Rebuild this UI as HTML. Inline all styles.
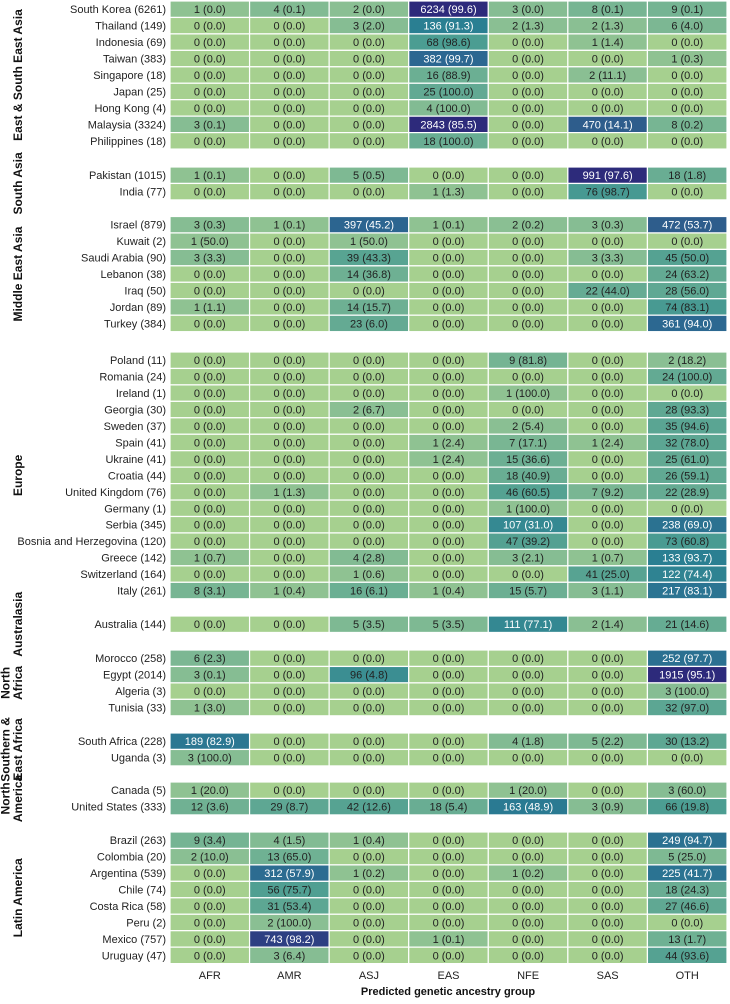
<!DOCTYPE html>
<html><head><meta charset="utf-8">
<style>
html,body{margin:0;padding:0;background:#fff;}
body{width:730px;height:999px;overflow:hidden;font-family:"Liberation Sans",Arial,sans-serif;}
svg text{font-family:"Liberation Sans",Arial,sans-serif;}
</style></head>
<body>
<svg id="chart" width="730" height="999" xmlns="http://www.w3.org/2000/svg"></svg>
<script>
const columns = ["AFR","AMR","ASJ","EAS","NFE","SAS","OTH"];
const groups = [
 {name:["East & South East Asia"], rows:[
  ["South Korea (6261)",[1,4,2,6234,3,8,9],[0.0,0.1,0.0,99.6,0.0,0.1,0.1]],
  ["Thailand (149)",[0,0,3,136,2,2,6],[0.0,0.0,2.0,91.3,1.3,1.3,4.0]],
  ["Indonesia (69)",[0,0,0,68,0,1,0],[0.0,0.0,0.0,98.6,0.0,1.4,0.0]],
  ["Taiwan (383)",[0,0,0,382,0,0,1],[0.0,0.0,0.0,99.7,0.0,0.0,0.3]],
  ["Singapore (18)",[0,0,0,16,0,2,0],[0.0,0.0,0.0,88.9,0.0,11.1,0.0]],
  ["Japan (25)",[0,0,0,25,0,0,0],[0.0,0.0,0.0,100.0,0.0,0.0,0.0]],
  ["Hong Kong (4)",[0,0,0,4,0,0,0],[0.0,0.0,0.0,100.0,0.0,0.0,0.0]],
  ["Malaysia (3324)",[3,0,0,2843,0,470,8],[0.1,0.0,0.0,85.5,0.0,14.1,0.2]],
  ["Philippines (18)",[0,0,0,18,0,0,0],[0.0,0.0,0.0,100.0,0.0,0.0,0.0]]]},
 {name:["South Asia"], rows:[
  ["Pakistan (1015)",[1,0,5,0,0,991,18],[0.1,0.0,0.5,0.0,0.0,97.6,1.8]],
  ["India (77)",[0,0,0,1,0,76,0],[0.0,0.0,0.0,1.3,0.0,98.7,0.0]]]},
 {name:["Middle East Asia"], rows:[
  ["Israel (879)",[3,1,397,1,2,3,472],[0.3,0.1,45.2,0.1,0.2,0.3,53.7]],
  ["Kuwait (2)",[1,0,1,0,0,0,0],[50.0,0.0,50.0,0.0,0.0,0.0,0.0]],
  ["Saudi Arabia (90)",[3,0,39,0,0,3,45],[3.3,0.0,43.3,0.0,0.0,3.3,50.0]],
  ["Lebanon (38)",[0,0,14,0,0,0,24],[0.0,0.0,36.8,0.0,0.0,0.0,63.2]],
  ["Iraq (50)",[0,0,0,0,0,22,28],[0.0,0.0,0.0,0.0,0.0,44.0,56.0]],
  ["Jordan (89)",[1,0,14,0,0,0,74],[1.1,0.0,15.7,0.0,0.0,0.0,83.1]],
  ["Turkey (384)",[0,0,23,0,0,0,361],[0.0,0.0,6.0,0.0,0.0,0.0,94.0]]]},
 {name:["Europe"], rows:[
  ["Poland (11)",[0,0,0,0,9,0,2],[0.0,0.0,0.0,0.0,81.8,0.0,18.2]],
  ["Romania (24)",[0,0,0,0,0,0,24],[0.0,0.0,0.0,0.0,0.0,0.0,100.0]],
  ["Ireland (1)",[0,0,0,0,1,0,0],[0.0,0.0,0.0,0.0,100.0,0.0,0.0]],
  ["Georgia (30)",[0,0,2,0,0,0,28],[0.0,0.0,6.7,0.0,0.0,0.0,93.3]],
  ["Sweden (37)",[0,0,0,0,2,0,35],[0.0,0.0,0.0,0.0,5.4,0.0,94.6]],
  ["Spain (41)",[0,0,0,1,7,1,32],[0.0,0.0,0.0,2.4,17.1,2.4,78.0]],
  ["Ukraine (41)",[0,0,0,1,15,0,25],[0.0,0.0,0.0,2.4,36.6,0.0,61.0]],
  ["Croatia (44)",[0,0,0,0,18,0,26],[0.0,0.0,0.0,0.0,40.9,0.0,59.1]],
  ["United Kingdom (76)",[0,1,0,0,46,7,22],[0.0,1.3,0.0,0.0,60.5,9.2,28.9]],
  ["Germany (1)",[0,0,0,0,1,0,0],[0.0,0.0,0.0,0.0,100.0,0.0,0.0]],
  ["Serbia (345)",[0,0,0,0,107,0,238],[0.0,0.0,0.0,0.0,31.0,0.0,69.0]],
  ["Bosnia and Herzegovina (120)",[0,0,0,0,47,0,73],[0.0,0.0,0.0,0.0,39.2,0.0,60.8]],
  ["Greece (142)",[1,0,4,0,3,1,133],[0.7,0.0,2.8,0.0,2.1,0.7,93.7]],
  ["Switzerland (164)",[0,0,1,0,0,41,122],[0.0,0.0,0.6,0.0,0.0,25.0,74.4]],
  ["Italy (261)",[8,1,16,1,15,3,217],[3.1,0.4,6.1,0.4,5.7,1.1,83.1]]]},
 {name:["Australasia"], rows:[
  ["Australia (144)",[0,0,5,5,111,2,21],[0.0,0.0,3.5,3.5,77.1,1.4,14.6]]]},
 {name:["North","Africa"], rows:[
  ["Morocco (258)",[6,0,0,0,0,0,252],[2.3,0.0,0.0,0.0,0.0,0.0,97.7]],
  ["Egypt (2014)",[3,0,96,0,0,0,1915],[0.1,0.0,4.8,0.0,0.0,0.0,95.1]],
  ["Algeria (3)",[0,0,0,0,0,0,3],[0.0,0.0,0.0,0.0,0.0,0.0,100.0]],
  ["Tunisia (33)",[1,0,0,0,0,0,32],[3.0,0.0,0.0,0.0,0.0,0.0,97.0]]]},
 {name:["Southern &","East Africa"], rows:[
  ["South Africa (228)",[189,0,0,0,4,5,30],[82.9,0.0,0.0,0.0,1.8,2.2,13.2]],
  ["Uganda (3)",[3,0,0,0,0,0,0],[100.0,0.0,0.0,0.0,0.0,0.0,0.0]]]},
 {name:["North","America"], rows:[
  ["Canada (5)",[1,0,0,0,1,0,3],[20.0,0.0,0.0,0.0,20.0,0.0,60.0]],
  ["United States (333)",[12,29,42,18,163,3,66],[3.6,8.7,12.6,5.4,48.9,0.9,19.8]]]},
 {name:["Latin America"], rows:[
  ["Brazil (263)",[9,4,1,0,0,0,249],[3.4,1.5,0.4,0.0,0.0,0.0,94.7]],
  ["Colombia (20)",[2,13,0,0,0,0,5],[10.0,65.0,0.0,0.0,0.0,0.0,25.0]],
  ["Argentina (539)",[0,312,1,0,1,0,225],[0.0,57.9,0.2,0.0,0.2,0.0,41.7]],
  ["Chile (74)",[0,56,0,0,0,0,18],[0.0,75.7,0.0,0.0,0.0,0.0,24.3]],
  ["Costa Rica (58)",[0,31,0,0,0,0,27],[0.0,53.4,0.0,0.0,0.0,0.0,46.6]],
  ["Peru (2)",[0,2,0,0,0,0,0],[0.0,100.0,0.0,0.0,0.0,0.0,0.0]],
  ["Mexico (757)",[0,743,0,1,0,0,13],[0.0,98.2,0.0,0.1,0.0,0.0,1.7]],
  ["Uruguay (47)",[0,3,0,0,0,0,44],[0.0,6.4,0.0,0.0,0.0,0.0,93.6]]]}
];

const NS="http://www.w3.org/2000/svg";
const svg=document.getElementById('chart');
const X0=170,X1=727,P=16.45;
const GROUP_TOPS=[1,167,216.5,352,616,650,733,782,832];
const CW=(X1-X0)/columns.length;
const xPos=i=>X0+i*CW;
const stops=[[0,[166,208,143]],[0.1,[143,194,146]],[0.2,[134,189,147]],[0.42,[106,174,147]],[0.62,[74,156,146]],[0.71,[42,127,146]],[0.86,[44,103,145]],[0.9,[46,90,139]],[1,[45,42,123]]];
function col(v){
  let t=Math.min(1,Math.log10(v+1)/3);
  for(let i=1;i<stops.length;i++){
    if(t<=stops[i][0]){const a=stops[i-1],b=stops[i];const f=(t-a[0])/(b[0]-a[0]);
      return 'rgb('+a[1].map((c,k)=>Math.round(c+(b[1][k]-c)*f)).join(',')+')';}
  }
  return 'rgb(45,42,123)';
}
function mk(tag,attrs,txt){const e=document.createElementNS(NS,tag);for(const k in attrs)e.setAttribute(k,attrs[k]);if(txt!==undefined)e.textContent=txt;svg.appendChild(e);return e;}
groups.forEach((g,gi)=>{
  let y=GROUP_TOPS[gi];
  const gTop=y;
  g.rows.forEach(r=>{
    const lab=mk('text',{x:166,y:y+P/2+4,'text-anchor':'end','font-size':'11',fill:'#222'},r[0]);
    
    
    r[1].forEach((v,ci)=>{
      const rc=mk('rect',{x:xPos(ci),y:y,width:CW,height:P,fill:col(v),stroke:'#fff','stroke-width':'1.2'});
      
      
      const dark=v>=100;
      const tx=mk('text',{x:xPos(ci)+CW/2,y:y+P/2+4,'text-anchor':'middle','font-size':'11',fill:dark?'#fff':'#222'},v+' ('+r[2][ci].toFixed(1)+')');
      
      
    });
    y+=P;
  });
  const cy=(gTop+y)/2;
  const lines=g.name;
  lines.forEach((ln,li)=>{
    const lx=lines.length===1?22:(li===0?9.5:22);
    const t=mk('text',{x:lx,y:cy,'text-anchor':'middle','font-size':'12','font-weight':'bold',fill:'#111',transform:'rotate(-90 '+lx+' '+cy+')'},ln);
    
    
  });
});
columns.forEach((c,i)=>{
  const t=mk('text',{x:xPos(i)+CW/2,y:979,'text-anchor':'middle','font-size':'11',fill:'#222'},c);
  
  
});
const xt=mk('text',{x:448,y:995,'text-anchor':'middle','font-size':'11','font-weight':'bold',fill:'#111'},'Predicted genetic ancestry group');


</script>
</body></html>
